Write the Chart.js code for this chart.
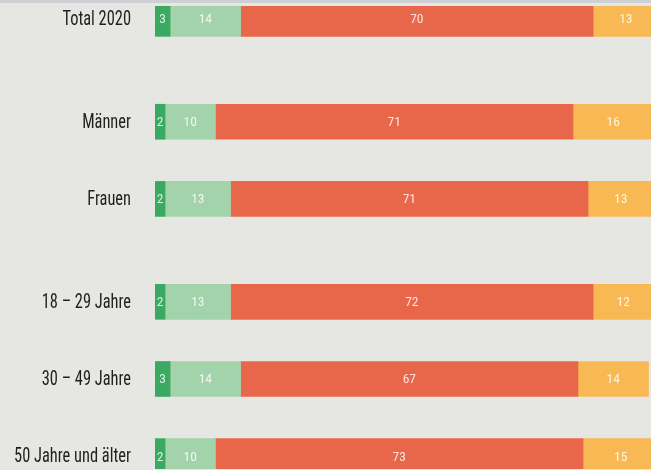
<!DOCTYPE html>
<html>
<head>
<meta charset="utf-8">
<script src="https://cdn.jsdelivr.net/npm/chart.js@4"></script>
<style>
  html, body { margin: 0; padding: 0; background: #e6e6e3; overflow: hidden; }
  #band { position: absolute; left: 0; top: 0; width: 651px; height: 3px; background: #cdd1d4; }
  #wrap { width: 651px; height: 470px; }
</style>
</head>
<body>
<div id="wrap"><canvas id="chart"></canvas></div>
<div id="band"></div>
<script>
// empty strings are spacer rows between the groups
var categories = ['Total 2020', '', '', '', 'Männer', '', '', 'Frauen', '', '', '',
                  '18 – 29 Jahre', '', '', '30 – 49 Jahre', '', '', '50 Jahre und älter'];
var darkGreen   = [3, null, null, null, 2, null, null, 2, null, null, null, 2, null, null, 3, null, null, 2];
var lightGreen  = [14, null, null, null, 10, null, null, 13, null, null, null, 13, null, null, 14, null, null, 10];
var red         = [70, null, null, null, 71, null, null, 71, null, null, null, 72, null, null, 67, null, null, 73];
var yellow      = [13, null, null, null, 16, null, null, 13, null, null, null, 12, null, null, 14, null, null, 15];

var FONT = "'Roboto Condensed', 'DejaVu Sans Condensed', sans-serif";
var SQUEEZE = 0.82;   // the source type is narrower than any installed face

function make_set(data, color, txt) {
    return {
        data: data,
        backgroundColor: color,
        borderWidth: 0,
        barThickness: 35,
        labelColor: txt
    };
}

// category names, right aligned left of the bars
var rowLabels = {
    id: 'rowLabels',
    afterDraw: function(chart) {
        var ctx = chart.ctx;
        var y = chart.scales.y;
        var right = chart.chartArea.left - 24;
        ctx.save();
        ctx.font = '20px ' + FONT;
        ctx.fillStyle = '#1f1f1f';
        ctx.textAlign = 'right';
        ctx.textBaseline = 'alphabetic';
        ctx.scale(SQUEEZE, 1);
        chart.data.labels.forEach(function(lab, i) {
            if (!lab) return;
            ctx.fillText(lab, right / SQUEEZE, y.getPixelForTick(i) + 6);
        });
        ctx.restore();
    }
};

// value in the middle of each segment
var valueLabels = {
    id: 'valueLabels',
    afterDatasetsDraw: function(chart) {
        var ctx = chart.ctx;
        ctx.save();
        ctx.font = '13.5px ' + FONT;
        ctx.textAlign = 'center';
        ctx.textBaseline = 'middle';
        chart.data.datasets.forEach(function(ds, i) {
            chart.getDatasetMeta(i).data.forEach(function(bar, j) {
                if (ds.data[j] == null) return;
                ctx.fillStyle = ds.labelColor;
                ctx.fillText(ds.data[j], (bar.x + bar.base) / 2, bar.y + 1);
            });
        });
        ctx.restore();
    }
};

new Chart(document.getElementById('chart'), {
    type: 'bar',
    data: {
        labels: categories,
        datasets: [
            make_set(darkGreen, '#3aa962', '#d9f0de'),
            make_set(lightGreen, '#a3d3ab', '#eef8ef'),
            make_set(red, '#e8664a', '#fbe4dc'),
            make_set(yellow, '#f8b854', '#fff4e0')
        ]
    },
    options: {
        indexAxis: 'y',
        responsive: true,
        maintainAspectRatio: false,
        animation: false,
        layout: { padding: { top: 6, bottom: 1, left: 0, right: 0 } },
        plugins: { legend: { display: false }, tooltip: { enabled: false } },
        scales: {
            x: {
                stacked: true,
                min: 0,
                max: 98.5,
                display: false
            },
            y: {
                stacked: true,
                border: { display: false },
                grid: { display: false, drawTicks: false },
                ticks: { display: false, autoSkip: false },
                afterFit: function(scale) {
                    scale.width = 155;
                    scale.paddingTop = 0;
                    scale.paddingBottom = 0;
                }
            }
        }
    },
    plugins: [valueLabels, rowLabels]
});
</script>
</body>
</html>
